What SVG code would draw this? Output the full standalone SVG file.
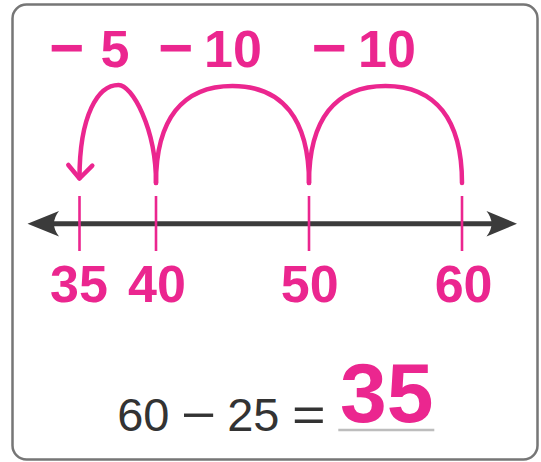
<svg xmlns="http://www.w3.org/2000/svg" width="541" height="462" viewBox="0 0 541 462">
<style>
.pk{fill:#EB268F;font-family:"Liberation Sans",Arial,sans-serif;font-weight:bold;text-anchor:middle}
.jump{fill:none;stroke:#EB268F;stroke-width:4.5;stroke-linecap:round;stroke-linejoin:round}
.tick{stroke:#EB268F;stroke-width:2.6}
.eq{fill:#333;font-family:"Liberation Sans",Arial,sans-serif;text-anchor:middle}
</style>
<rect id="frame" x="12.5" y="4.5" width="525" height="455" rx="14" fill="#fff" stroke="#767676" stroke-width="2.5"/>
<g id="axis">
<line x1="45" y1="223.7" x2="500" y2="223.7" stroke="#3b3b3b" stroke-width="5"/>
<path d="M27.5,223.7 L59,211 Q49,223.7 59,236.5 Z" fill="#3b3b3b"/>
<path d="M517,223.7 L486.5,211 Q496.5,223.7 486.5,236.5 Z" fill="#3b3b3b"/>
</g>
<g id="n35"><line class="tick" x1="79.5" y1="196" x2="79.5" y2="251"/><text class="pk" x="79" y="302" font-size="52">35</text></g>
<g id="n40"><line class="tick" x1="156" y1="196" x2="156" y2="251"/><text class="pk" x="157" y="302" font-size="52">40</text></g>
<g id="n50"><line class="tick" x1="309" y1="196" x2="309" y2="251"/><text class="pk" x="309.7" y="302" font-size="52">50</text></g>
<g id="n60"><line class="tick" x1="462" y1="196" x2="462" y2="251"/><text class="pk" x="463.6" y="302" font-size="52">60</text></g>
<g id="connectors">
<path class="jump" d="M462,183 C462,119.6 435.7,86 385.5,86 C335.3,86 309,119.6 309,183"/>
<path class="jump" d="M309,183 C309,119.6 282.7,86 232.5,86 C182.3,86 156,119.6 156,183"/>
<path class="jump" d="M156,183 C156,128 132,85 118.5,85 C98,85 79.5,115 79.5,178"/>
<polyline class="jump" points="68.3,165 79.5,178.5 92.3,165.7"/>
</g>
<g id="jump-labels">
<text class="pk" x="66.5" y="68" font-size="60">−</text>
<text class="pk" x="115" y="67" font-size="52">5</text>
<text class="pk" x="175.5" y="68" font-size="60">−</text>
<text class="pk" x="233" y="67" font-size="52">10</text>
<text class="pk" x="329" y="68" font-size="60">−</text>
<text class="pk" x="387" y="67" font-size="52">10</text>
</g>
<g id="equation">
<text class="eq" x="143.3" y="430.7" font-size="47">60</text>
<text class="eq" transform="translate(198.3 0) scale(1.25 1)" x="0" y="431.3" font-size="48">−</text>
<text class="eq" x="253.3" y="430.7" font-size="47">25</text>
<text class="eq" transform="translate(308.8 0) scale(1.2 1)" x="0" y="430.7" font-size="48">=</text>
<line x1="338.3" y1="430" x2="434.3" y2="430" stroke="#bdbdbd" stroke-width="2.5"/>
<text class="pk" x="386.7" y="421.7" font-size="84">35</text>
</g>
</svg>
